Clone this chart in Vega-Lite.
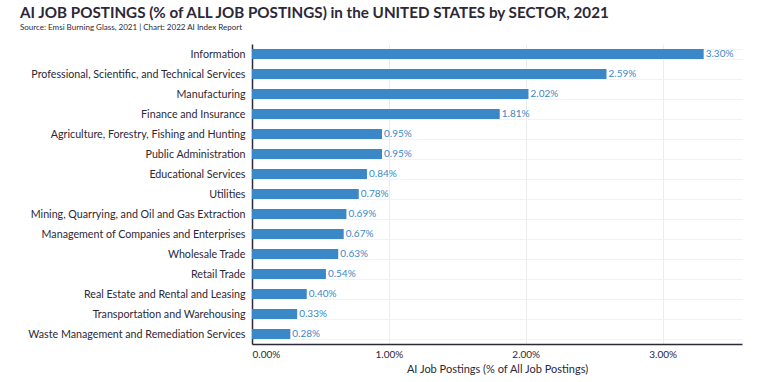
{
  "$schema": "https://vega.github.io/schema/vega-lite/v6.json",
  "autosize": {"type": "none"},
  "width": 490,
  "height": 300,
  "padding": {"left": 252, "top": 44, "right": 28, "bottom": 38},
  "background": "white",
  "config": {
    "font": "Lato",
    "view": {"stroke": null},
    "title": {"font": "Lato", "color": "#2b2838"}
  },
  "title": {
    "text": "AI JOB POSTINGS (% of ALL JOB POSTINGS) in the UNITED STATES by SECTOR, 2021",
    "subtitle": "Source: Emsi Burning Glass, 2021 | Chart: 2022 AI Index Report",
    "anchor": "start",
    "frame": "group",
    "dx": -232,
    "fontSize": 15.2,
    "fontWeight": "bold",
    "subtitleFontSize": 8,
    "subtitleColor": "#2b2838",
    "subtitlePadding": 3,
    "offset": 6
  },
  "data": {
    "values": [
      {"sector": "Information", "share": 0.0330},
      {"sector": "Professional, Scientific, and Technical Services", "share": 0.0259},
      {"sector": "Manufacturing", "share": 0.0202},
      {"sector": "Finance and Insurance", "share": 0.0181},
      {"sector": "Agriculture, Forestry, Fishing and Hunting", "share": 0.0095},
      {"sector": "Public Administration", "share": 0.0095},
      {"sector": "Educational Services", "share": 0.0084},
      {"sector": "Utilities", "share": 0.0078},
      {"sector": "Mining, Quarrying, and Oil and Gas Extraction", "share": 0.0069},
      {"sector": "Management of Companies and Enterprises", "share": 0.0067},
      {"sector": "Wholesale Trade", "share": 0.0063},
      {"sector": "Retail Trade", "share": 0.0054},
      {"sector": "Real Estate and Rental and Leasing", "share": 0.0040},
      {"sector": "Transportation and Warehousing", "share": 0.0033},
      {"sector": "Waste Management and Remediation Services", "share": 0.0028}
    ]
  },
  "encoding": {
    "y": {
      "field": "sector",
      "type": "nominal",
      "sort": null,
      "scale": {"paddingInner": 0.5, "paddingOuter": 0.25},
      "axis": {
        "title": null,
        "ticks": false,
        "labelPadding": 7,
        "labelFontSize": 10.7,
        "labelColor": "#2b2838",
        "domainColor": "#2b2838",
        "domainWidth": 1.5,
        "grid": true,
        "gridColor": "#f2f2f2",
        "tickBand": "extent",
        "labelLimit": 300
      }
    },
    "x": {
      "field": "share",
      "type": "quantitative",
      "scale": {"domain": [0, 0.0358], "nice": false},
      "axis": {
        "title": "AI Job Postings (% of All Job Postings)",
        "format": ".2%",
        "values": [0, 0.01, 0.02, 0.03],
        "ticks": false,
        "labelPadding": 5,
        "labelFontSize": 10,
        "labelColor": "#2b2838",
        "labelFlush": true,
        "titleFontSize": 11,
        "titleFontWeight": "normal",
        "titleColor": "#2b2838",
        "titlePadding": 4,
        "domainColor": "#2b2838",
        "domainWidth": 1.5,
        "gridColor": "#ececec"
      }
    }
  },
  "layer": [
    {"mark": {"type": "bar", "color": "#3a88c7"}},
    {
      "mark": {"type": "text", "align": "left", "dx": 2, "fontSize": 10, "color": "#3a88c7"},
      "encoding": {"text": {"field": "share", "type": "quantitative", "format": ".2%"}}
    }
  ]
}
